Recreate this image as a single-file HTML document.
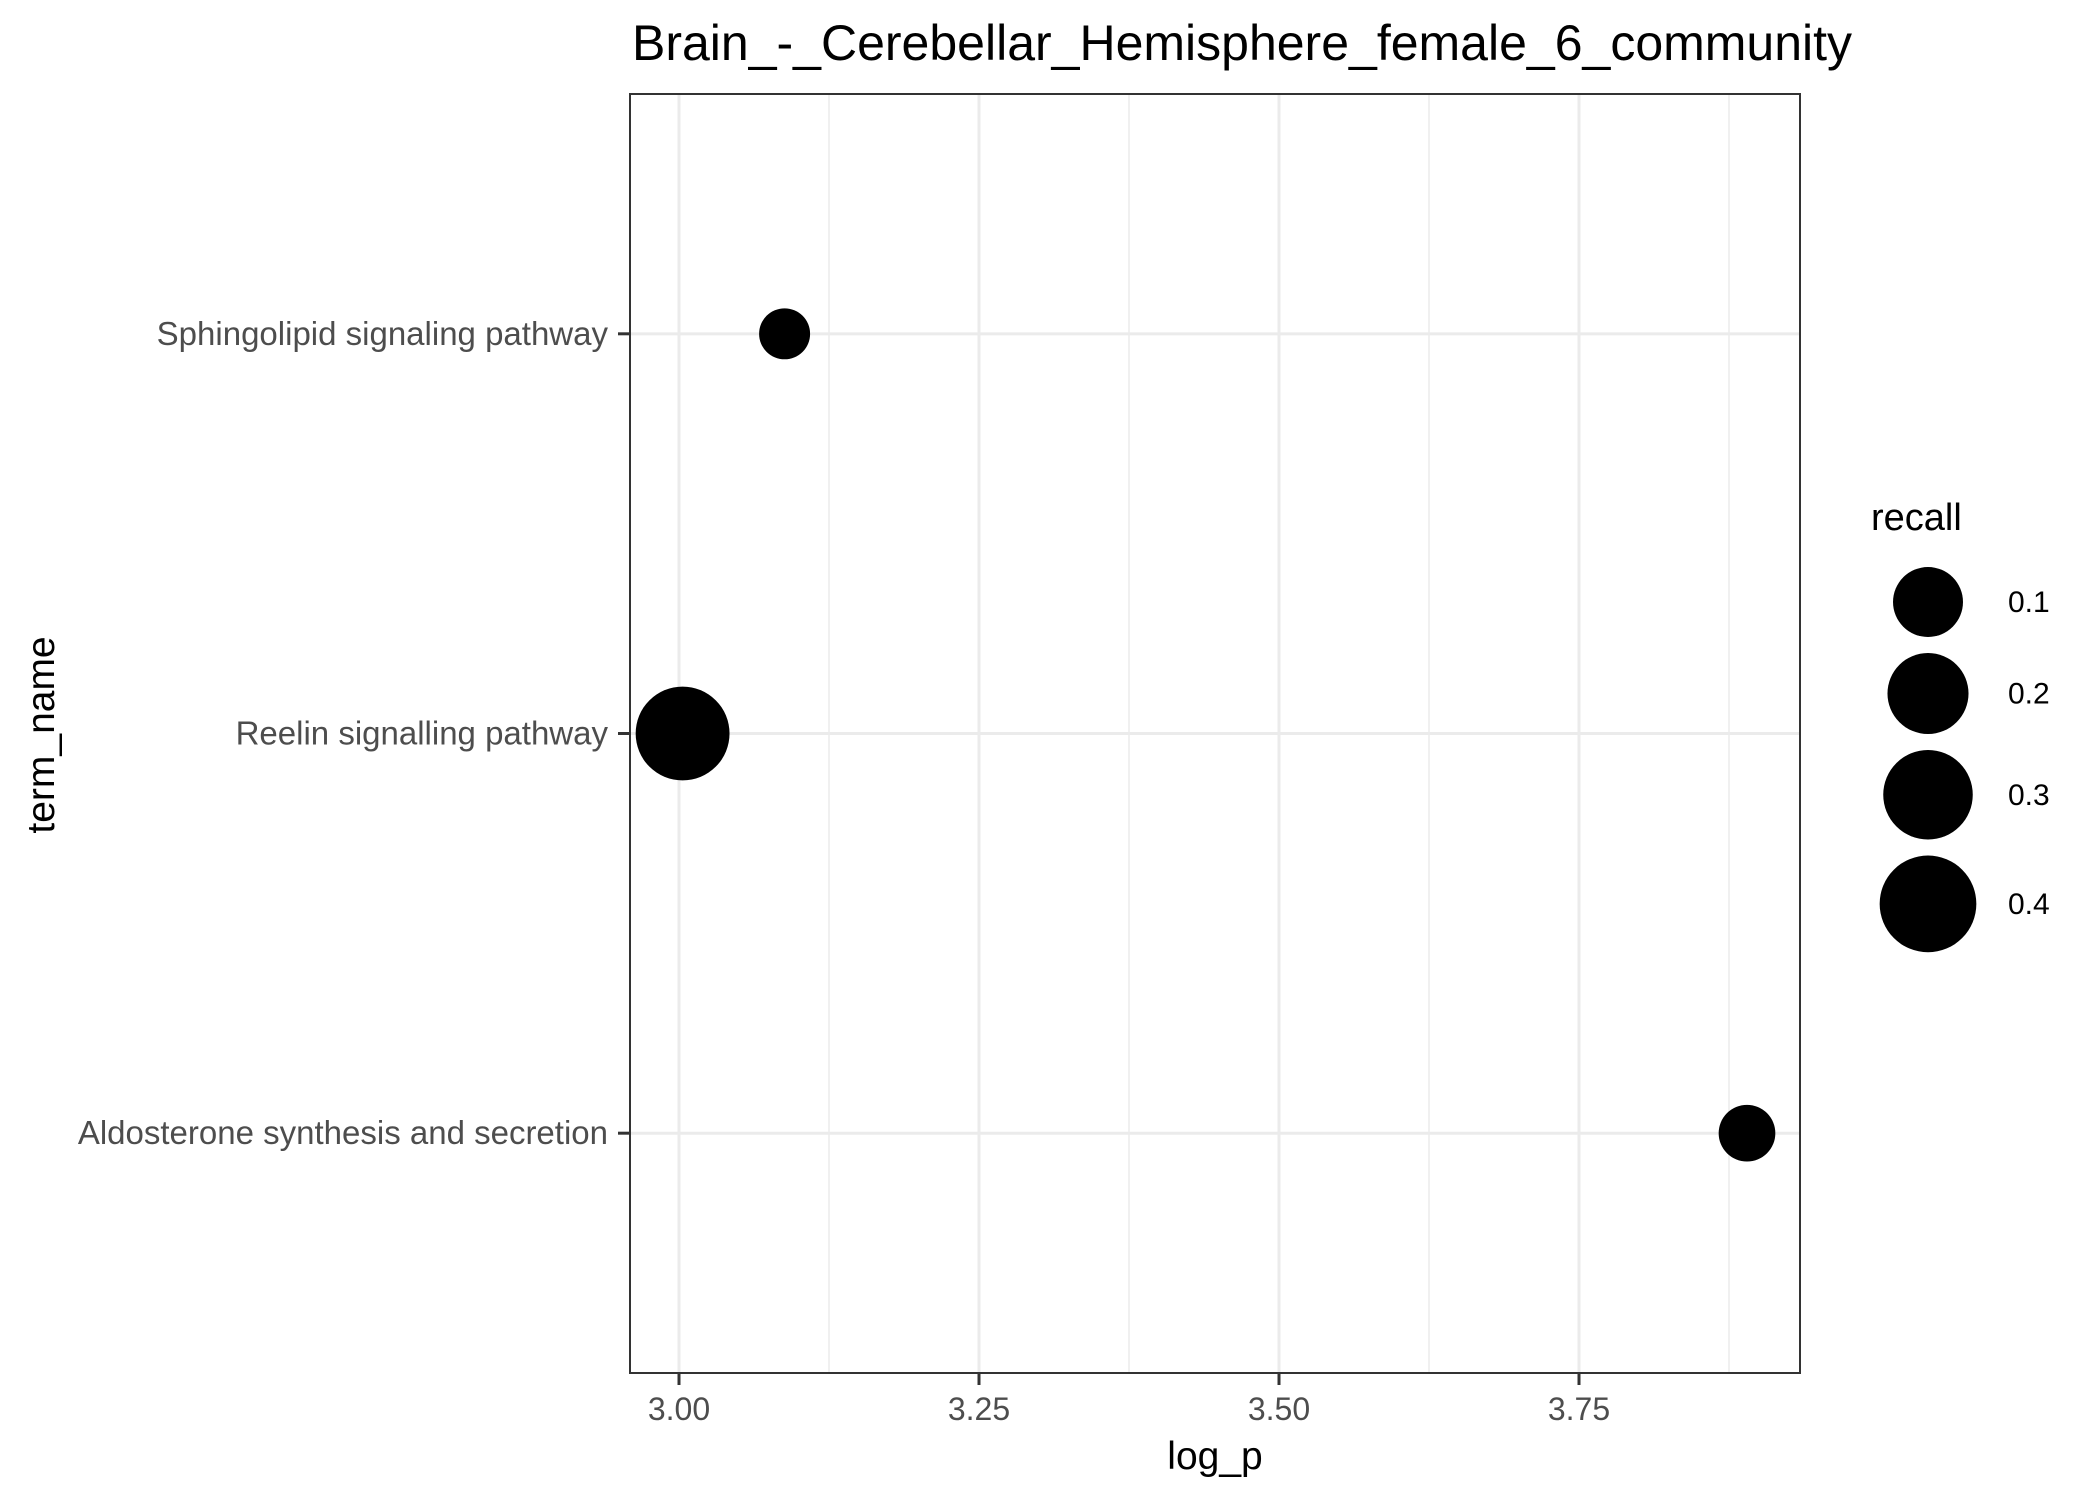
<!DOCTYPE html>
<html><head><meta charset="utf-8"><style>
html,body{margin:0;padding:0;background:#fff;}
svg{display:block;font-family:"Liberation Sans",Arial,sans-serif;}
</style></head><body>
<svg id="chart" width="2100" height="1499" viewBox="0 0 2100 1499">
<rect width="2100" height="1499" fill="#fff"/>
<text x="632" y="60" font-size="50" fill="#000">Brain_-_Cerebellar_Hemisphere_female_6_community</text>
<g id="grid"></g>
<g id="points"></g>
<rect x="630" y="94" width="1170" height="1279" fill="none" stroke="#333" stroke-width="2"/>
<g id="axes"></g>
<text x="1215" y="1469" font-size="39" text-anchor="middle" fill="#000">log_p</text>
<text transform="translate(54,735) rotate(-90)" font-size="39" text-anchor="middle" fill="#000">term_name</text>
<g id="legend">
<text x="1871" y="530" font-size="38" fill="#000">recall</text>
</g>
</svg>
<script>
const categories = ["Aldosterone synthesis and secretion", "Reelin signalling pathway", "Sphingolipid signaling pathway"];
const logP = [3.89, 3.003, 3.088];
const recall = [0.032, 0.40, 0.012];
const xTicks = [3.00, 3.25, 3.50, 3.75];
const xTickLabels = ["3.00", "3.25", "3.50", "3.75"];
const xMinor = [3.125, 3.375, 3.625, 3.875];
const legendValues = [0.1, 0.2, 0.3, 0.4];
const legendLabels = ["0.1", "0.2", "0.3", "0.4"];

const NS = "http://www.w3.org/2000/svg";
const L = 630, R = 1800, T = 94, B = 1373;
const xDom = [3 - 49/1200, 3 + 1121/1200];
function xScale(v){ return L + (v - xDom[0]) / (xDom[1] - xDom[0]) * (R - L); }
function yScale(i){ const n = categories.length; const lo = 0.4, hi = n + 0.6; return B - ((i + 1) - lo) / (hi - lo) * (B - T); }
function rScale(v){ return 21 + 41 * Math.sqrt(v); }
function mk(tag, attrs, parent){ const e = document.createElementNS(NS, tag); for (const k in attrs) e.setAttribute(k, attrs[k]); parent.appendChild(e); return e; }

const grid = document.getElementById("grid");
xMinor.forEach(v => {
  const l = mk("line", {x1: xScale(v), x2: xScale(v), y1: T, y2: B, stroke: "#ebebeb", "stroke-width": 1.5}, grid);
  
  
});
xTicks.forEach(v => {
  const l = mk("line", {x1: xScale(v), x2: xScale(v), y1: T, y2: B, stroke: "#ebebeb", "stroke-width": 3}, grid);
  
  
});
categories.forEach((c, i) => {
  const l = mk("line", {x1: L, x2: R, y1: yScale(i), y2: yScale(i), stroke: "#ebebeb", "stroke-width": 3}, grid);
  
  
});

const pts = document.getElementById("points");
categories.forEach((c, i) => {
  const p = mk("circle", {cx: xScale(logP[i]), cy: yScale(i), r: rScale(recall[i]), fill: "#000"}, pts);
  
  
});

const axes = document.getElementById("axes");
xTicks.forEach((v, i) => {
  const t = mk("line", {x1: xScale(v), x2: xScale(v), y1: B, y2: B + 12, stroke: "#333", "stroke-width": 3}, axes);
  
  
  const tx = mk("text", {x: xScale(v), y: B + 47, "font-size": 32, "text-anchor": "middle", fill: "#4d4d4d"}, axes);
  tx.textContent = xTickLabels[i];
  
  
});
categories.forEach((c, i) => {
  const y = yScale(i);
  const t = mk("line", {x1: L - 12, x2: L, y1: y, y2: y, stroke: "#333", "stroke-width": 3}, axes);
  
  
  const tx = mk("text", {x: L - 22, y: y + 11, "font-size": 33, "text-anchor": "end", fill: "#4d4d4d"}, axes);
  tx.textContent = c;
  
  
});

const leg = document.getElementById("legend");
let cy = 602;
legendValues.forEach((v, i) => {
  const r = rScale(v) * 1.03;
  if (i > 0) cy += rScale(legendValues[i-1]) * 1.03 + r + 16;
  const c = mk("circle", {cx: 1928, cy: cy, r: r, fill: "#000"}, leg);
  
  
  const t = mk("text", {x: 2008, y: cy + 10, "font-size": 30, fill: "#000"}, leg);
  t.textContent = legendLabels[i];
  
  
});
</script>
</body></html>
